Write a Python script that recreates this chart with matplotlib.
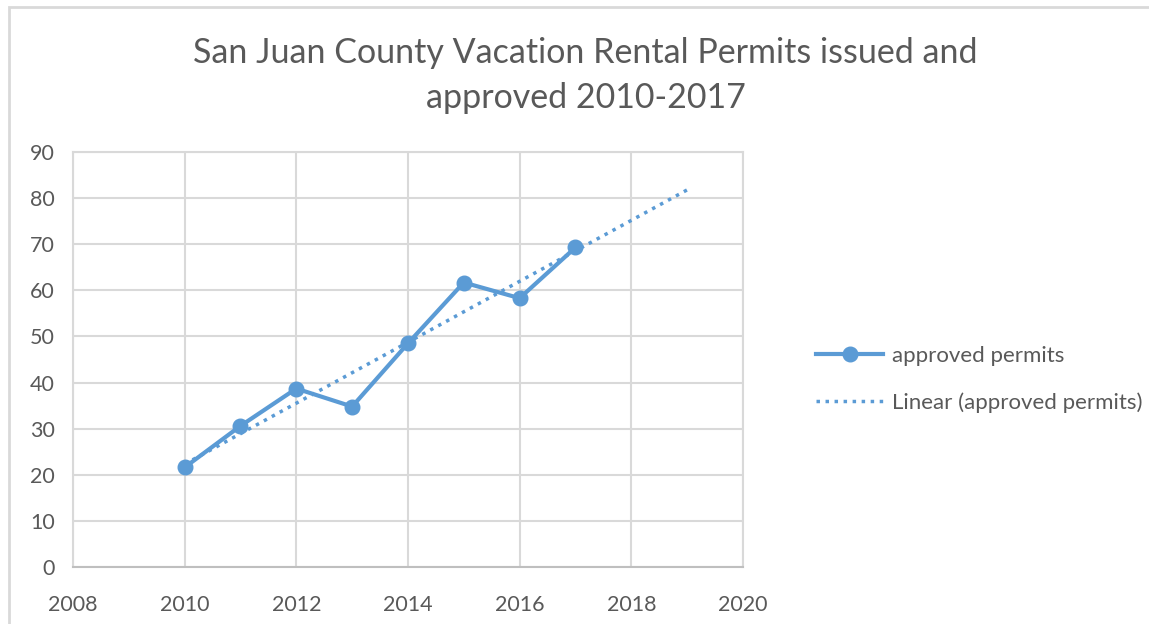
import matplotlib

matplotlib.use("Agg")

import matplotlib.pyplot as plt  # noqa: E402
import numpy as np  # noqa: E402
from matplotlib.patches import Rectangle  # noqa: E402

_BLUE = "#5b9bd5"
_TEXT = "#595959"
_GRID = "#d9d9d9"

years = [2010, 2011, 2012, 2013, 2014, 2015, 2016, 2017]
approved = [21.6, 30.6, 38.7, 34.8, 48.5, 61.7, 58.3, 69.3]
forecast_years = 2

x_ticks = [2008, 2010, 2012, 2014, 2016, 2018, 2020]
y_ticks = [0, 10, 20, 30, 40, 50, 60, 70, 80, 90]

title = "San Juan County Vacation Rental Permits issued and\napproved 2010-2017"

plt.rcParams["font.family"] = ["Lato", "DejaVu Sans"]

fig = plt.figure(figsize=(11.49, 6.24), dpi=100)
ax = fig.add_axes([0.0635, 0.0913, 0.5831, 0.6651])

# trendline (linear fit, forward forecast like Excel)
slope, intercept = np.polyfit(years, approved, 1)
trend_x = np.array([years[0], years[-1] + forecast_years])
ax.plot(trend_x, slope * trend_x + intercept, color=_BLUE, lw=2.5,
        linestyle=(0, (1, 1.6)), label="Linear (approved permits)", zorder=2)

ax.plot(years, approved, color=_BLUE, lw=3, marker="o", markersize=10.5,
        label="approved permits", zorder=3)

ax.set_xlim(2008, 2020)
ax.set_ylim(0, 90)
ax.set_xticks(x_ticks)
ax.set_yticks(y_ticks)
ax.grid(True, color=_GRID, lw=1.5)
ax.set_axisbelow(True)
ax.tick_params(length=0, labelsize=15.5, colors=_TEXT)
ax.tick_params(axis="x", pad=20)
ax.tick_params(axis="y", pad=13)
for name, sp in ax.spines.items():
    sp.set_color(_GRID)
    sp.set_linewidth(1.5)
ax.spines["bottom"].set_color("#bfbfbf")

fig.text(0.5096, 0.879, title, ha="center", va="center", fontsize=24.5,
         color=_TEXT, linespacing=1.5)

handles, labels = ax.get_legend_handles_labels()
leg = fig.legend(handles[::-1], labels[::-1], loc="upper left",
                 bbox_to_anchor=(0.693, 0.478), frameon=False,
                 fontsize=16, handlelength=3.0, handletextpad=0.4,
                 labelspacing=1.2)
for t in leg.get_texts():
    t.set_color(_TEXT)

fig.patches.append(Rectangle((9 / 1149, -0.1), 1.2, 0.1 + 1 - 7 / 624,
                             transform=fig.transFigure, fill=False,
                             edgecolor=_GRID, lw=2))

fig.savefig("out.png", dpi=100)
